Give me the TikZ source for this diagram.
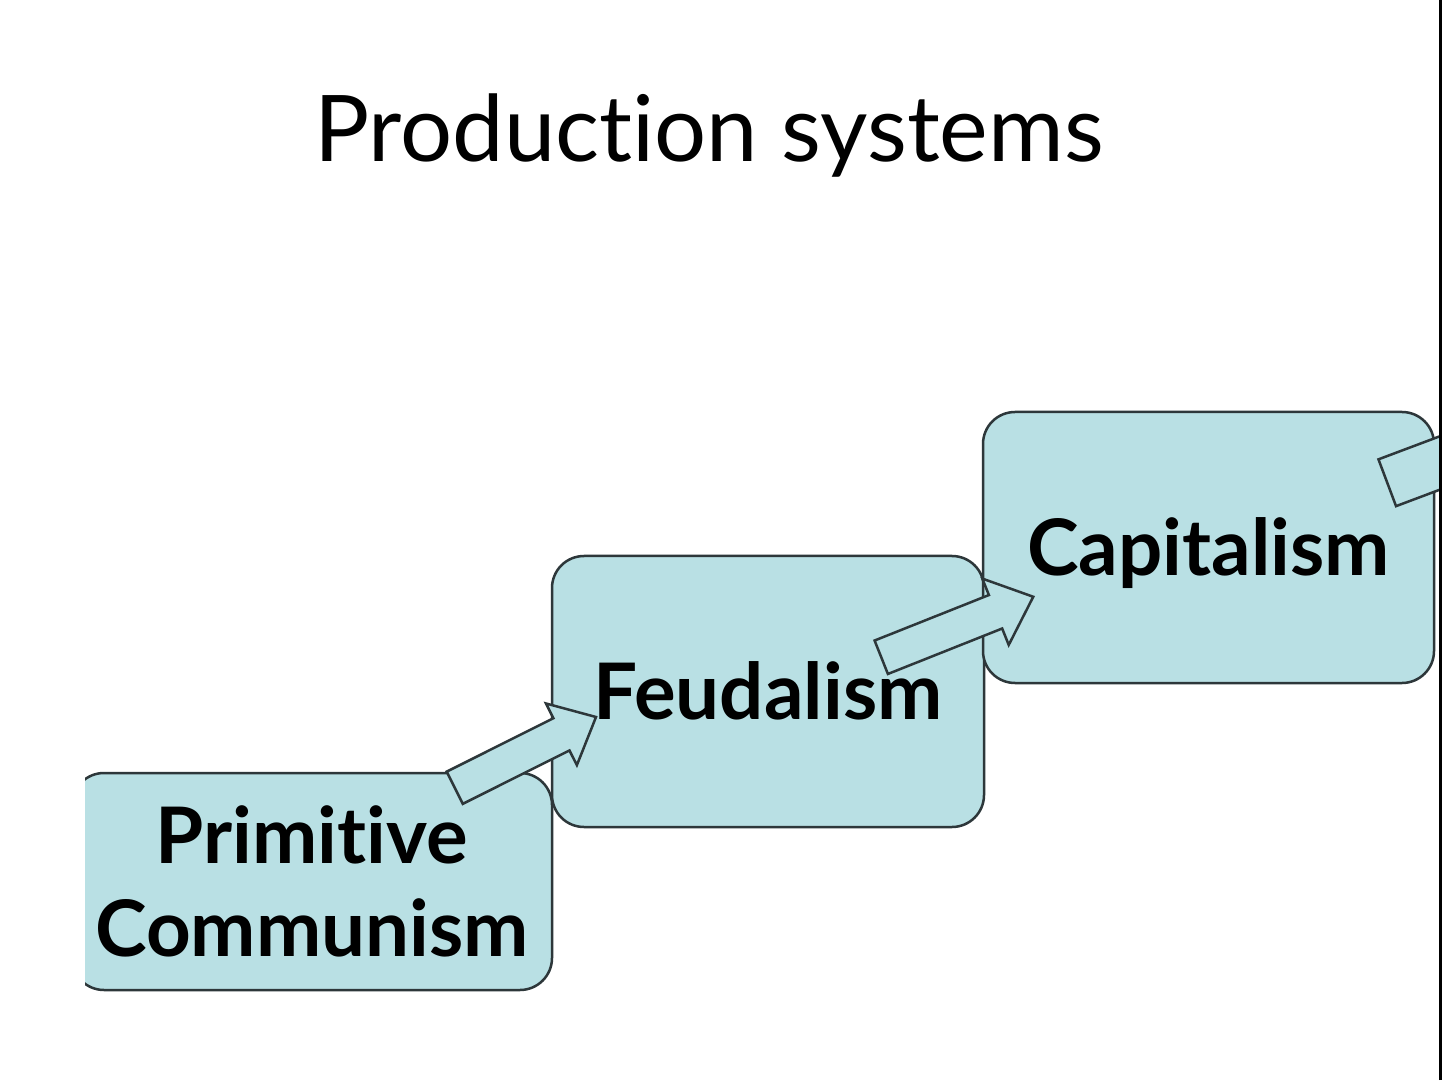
\documentclass[tikz,border=0pt]{standalone}
\usepackage{fontspec}
\setmainfont{Lato}[Ligatures=NoCommon]
\usetikzlibrary{calc}
\definecolor{boxfill}{RGB}{185,224,228}
\definecolor{boxline}{RGB}{45,55,58}
\begin{document}
\begin{tikzpicture}[x=1pt,y=1pt,
  stage/.style={rectangle, draw=boxline, fill=boxfill, line width=2.5pt,
    rounded corners=32pt, inner sep=0pt, align=center,
    font=\fontsize{78}{93}\selectfont\bfseries},
  blockarrow/.style={draw=boxline, fill=boxfill, line width=2.5pt, line join=miter},
  titletext/.style={font=\fontsize{92}{100}\selectfont, anchor=base, inner sep=0pt}]
\useasboundingbox (0,0) rectangle (1442,1080);
\fill[white] (0,0) rectangle (1442,1080);

\node[titletext] (title) at (709,918) {Production systems};

% stages
\node[stage, minimum width=432pt, minimum height=271pt, text height=56pt, text depth=0pt]
  (feud) at (768,388.5) {Feudalism};
\begin{scope}
  \clip (85,0) rectangle (1442,1080);
  \node[stage, minimum width=480pt, minimum height=217pt, text height=149pt, text depth=0pt]
    (prim) at (312,198.5) {Primitive\\Communism};
\end{scope}
\node[stage, minimum width=451pt, minimum height=271pt, text height=56pt, text depth=0pt]
  (capi) at (1208.5,532.5) {Capitalism};

% block arrows
\coordinate (a1) at ($(prim.north east)+(-98.5,-16)$);
\coordinate (a2) at ($(feud.north east)+(-104,-102.5)$);
\coordinate (a3) at ($(capi.north east)+(-48,-72)$);
\draw[blockarrow, shift={(a1)}, rotate=26.6]
  (0,-18) -- (119.3,-18) -- (119.3,-34.5) -- (158,0) -- (119.3,34.5) -- (119.3,18) -- (0,18) -- cycle;
\draw[blockarrow, shift={(a2)}, rotate=21.7]
  (0,-18) -- (123,-18) -- (123,-35.7) -- (163.6,0) -- (123,35.7) -- (123,18) -- (0,18) -- cycle;
\begin{scope}
  \clip (0,0) rectangle (1442,1080);
  \fill[boxfill, shift={(a3)}, rotate=20.6] (0,-25) rectangle (130,25);
  \draw[blockarrow, fill=none, shift={(a3)}, rotate=20.6]
    (130,-25) -- (0,-25) -- (0,25) -- (130,25);
\end{scope}

% slide border
\draw[line width=3pt, black] (1440.5,0) -- (1440.5,1080);
\end{tikzpicture}
\end{document}
